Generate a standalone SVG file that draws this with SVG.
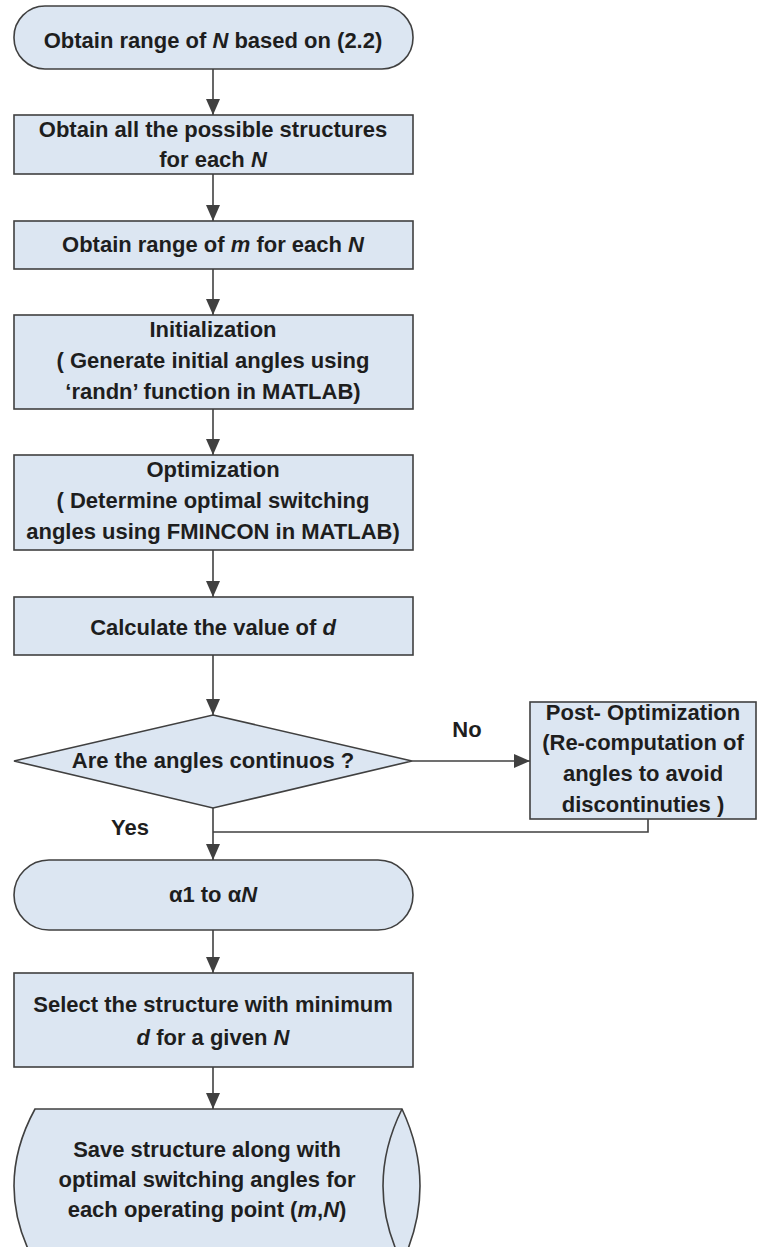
<svg xmlns="http://www.w3.org/2000/svg" width="757" height="1247" viewBox="0 0 757 1247">
<defs>
<style>
.n{fill:#dce6f2;stroke:#404040;stroke-width:1.6}
.t{font-family:"Liberation Sans",Arial,sans-serif;font-weight:bold;font-size:22px;fill:#1e1e1e;text-anchor:middle}
.c{fill:none;stroke:#404040;stroke-width:1.6}
</style>
<marker id="ah" markerUnits="userSpaceOnUse" markerWidth="16" markerHeight="16" viewBox="0 0 16 14" refX="16" refY="7" orient="auto">
<path d="M0,0 L16,7 L0,14 Z" fill="#404040"/>
</marker>
</defs>
<rect width="757" height="1247" fill="#fff"/>
<g id="connectors">
<line class="c" x1="213" y1="69" x2="213" y2="115" marker-end="url(#ah)"/>
<line class="c" x1="213" y1="174" x2="213" y2="221" marker-end="url(#ah)"/>
<line class="c" x1="213" y1="269" x2="213" y2="315" marker-end="url(#ah)"/>
<line class="c" x1="213" y1="409" x2="213" y2="455" marker-end="url(#ah)"/>
<line class="c" x1="213" y1="550" x2="213" y2="597" marker-end="url(#ah)"/>
<line class="c" x1="213" y1="655" x2="213" y2="715" marker-end="url(#ah)"/>
<line class="c" x1="412" y1="761" x2="530" y2="761" marker-end="url(#ah)"/>
<polyline class="c" points="648,819 648,832 213,832"/>
<line class="c" x1="213" y1="808" x2="213" y2="860" marker-end="url(#ah)"/>
<line class="c" x1="213" y1="930" x2="213" y2="973" marker-end="url(#ah)"/>
<line class="c" x1="213" y1="1067" x2="213" y2="1109" marker-end="url(#ah)"/>
<text class="t" x="467" y="737">No</text>
<text class="t" x="130" y="835">Yes</text>
</g>
<g id="start">
<rect class="n" x="14" y="6" width="399" height="63" rx="31" ry="31"/>
<text class="t" x="213" y="48">Obtain range of <tspan font-style="italic">N</tspan> based on (2.2)</text>
</g>
<g id="structures">
<rect class="n" x="14" y="115" width="399" height="59"/>
<text class="t" x="213" y="137">Obtain all the possible structures</text>
<text class="t" x="213" y="167">for each <tspan font-style="italic">N</tspan></text>
</g>
<g id="range-m">
<rect class="n" x="14" y="221" width="399" height="48"/>
<text class="t" x="213" y="252">Obtain range of <tspan font-style="italic">m</tspan> for each <tspan font-style="italic">N</tspan></text>
</g>
<g id="init">
<rect class="n" x="14" y="315" width="399" height="94"/>
<text class="t" x="213" y="337">Initialization</text>
<text class="t" x="213" y="368">( Generate initial angles using</text>
<text class="t" x="213" y="399">‘randn’ function in MATLAB)</text>
</g>
<g id="optim">
<rect class="n" x="14" y="455" width="399" height="95"/>
<text class="t" x="213" y="477">Optimization</text>
<text class="t" x="213" y="508">( Determine optimal switching</text>
<text class="t" x="213" y="539">angles using FMINCON in MATLAB)</text>
</g>
<g id="calc-d">
<rect class="n" x="14" y="597" width="399" height="58"/>
<text class="t" x="213" y="635">Calculate the value of <tspan font-style="italic">d</tspan></text>
</g>
<g id="decision">
<polygon class="n" points="213,715 412,761 213,808 14,761"/>
<text class="t" x="213" y="768">Are the angles continuos ?</text>
</g>
<g id="post-optim">
<rect class="n" x="530" y="702" width="226" height="117"/>
<text class="t" x="643" y="720">Post- Optimization</text>
<text class="t" x="643" y="750">(Re-computation of</text>
<text class="t" x="643" y="781">angles to avoid</text>
<text class="t" x="643" y="812">discontinuties )</text>
</g>
<g id="alphas">
<rect class="n" x="14" y="860" width="399" height="70" rx="35" ry="35"/>
<text class="t" x="213" y="902">α1 to α<tspan font-style="italic">N</tspan></text>
</g>
<g id="select">
<rect class="n" x="14" y="973" width="399" height="94"/>
<text class="t" x="213" y="1012">Select the structure with minimum</text>
<text class="t" x="213" y="1045"><tspan font-style="italic">d</tspan> for a given <tspan font-style="italic">N</tspan></text>
</g>
<g id="save">
<path class="n" d="M35,1109 H402 Q438,1186 402,1263 H35 Q-7,1186 35,1109 Z"/>
<path class="c" d="M402,1109 Q364,1186 402,1263"/>
<text class="t" x="207" y="1157">Save structure along with</text>
<text class="t" x="207" y="1187">optimal switching angles for</text>
<text class="t" x="207" y="1217">each operating point (<tspan font-style="italic">m</tspan>,<tspan font-style="italic">N</tspan>)</text>
</g>
</svg>
